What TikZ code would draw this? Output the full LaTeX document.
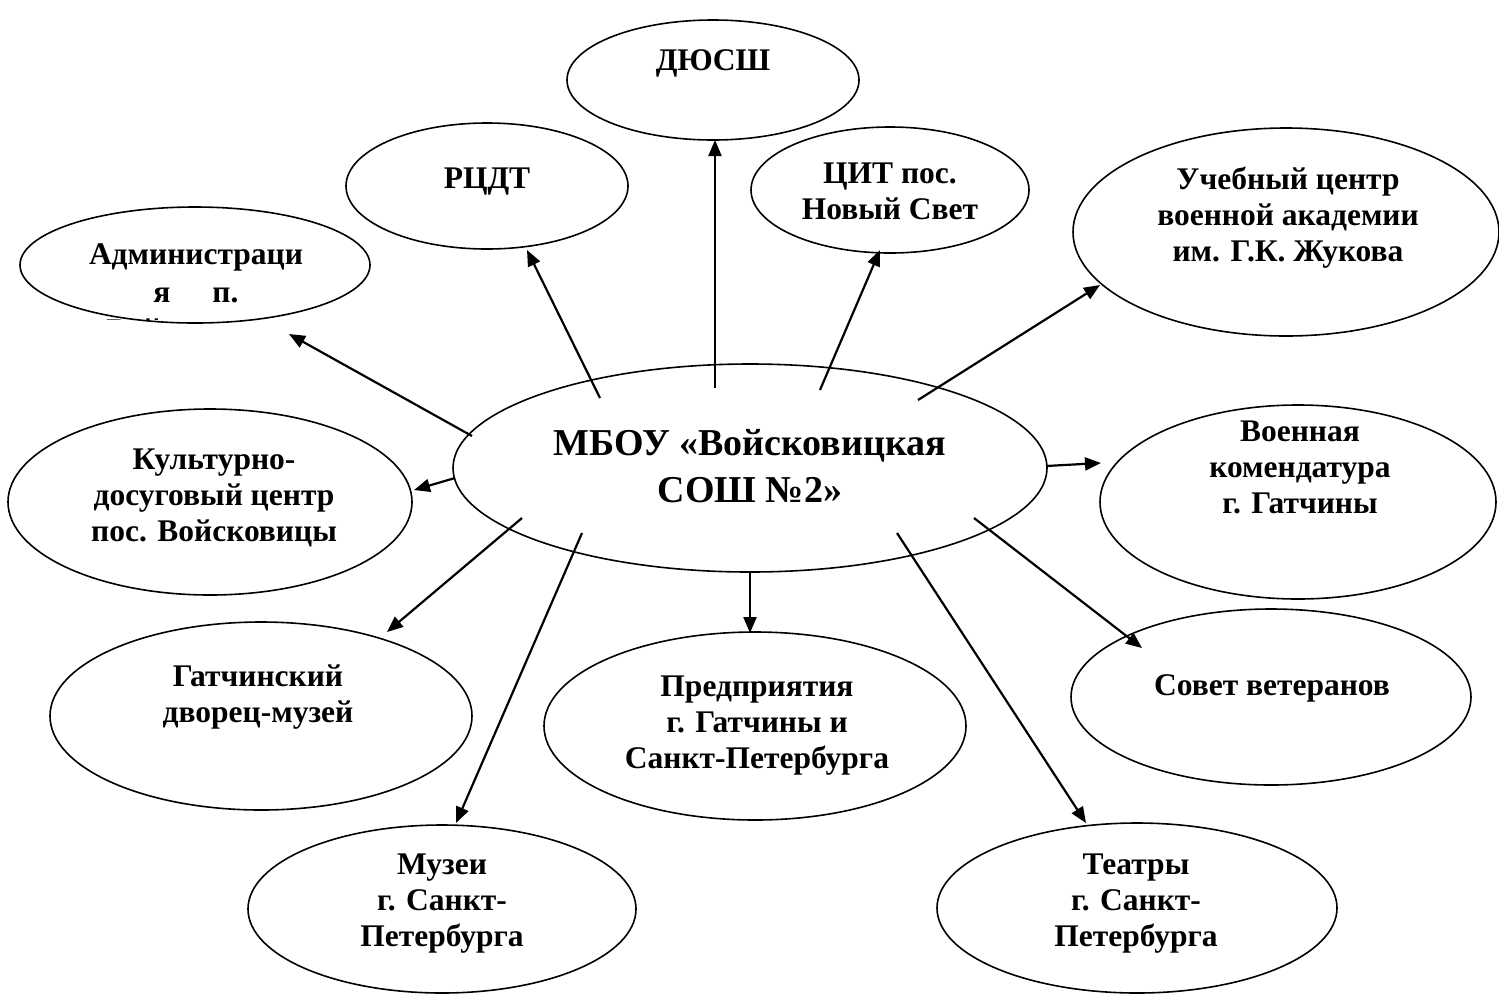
\documentclass[tikz,border=0pt]{standalone}
\usepackage{fontspec}
\setmainfont{Liberation Serif}
\usetikzlibrary{shapes.geometric,arrows.meta}
\begin{document}
\begin{tikzpicture}[x=1pt,y=-1pt,
 ell/.style={draw, ellipse, line width=1.6pt, inner sep=0pt, outer sep=0pt},
 lbl/.style={font=\fontsize{31.5}{36}\selectfont\bfseries, align=center, inner sep=0pt},
 big/.style={font=\fontsize{38}{47}\selectfont\bfseries, align=center, inner sep=0pt},
 conn/.style={line width=2.2pt, -{Triangle[length=16pt,width=13pt]}}]
\useasboundingbox (0,0) rectangle (1499,997);
% ellipses
\node[ell, minimum width=292pt, minimum height=120pt] (dyussh) at (713,80) {};
\node[ell, minimum width=282pt, minimum height=126pt] (rcdt) at (487,186) {};
\node[ell, minimum width=278pt, minimum height=126pt] (cit) at (890,190) {};
\node[ell, minimum width=426pt, minimum height=208pt] (uch) at (1286,232) {};
\node[ell, minimum width=350pt, minimum height=116pt] (adm) at (195,265) {};
\node[ell, minimum width=594pt, minimum height=208pt] (mbou) at (750,468) {};
\node[ell, minimum width=404pt, minimum height=186pt] (kult) at (210,502) {};
\node[ell, minimum width=396pt, minimum height=194pt] (voen) at (1298,502) {};
\node[ell, minimum width=422pt, minimum height=188pt] (gatch) at (261,716) {};
\node[ell, minimum width=422pt, minimum height=188pt] (pred) at (755,726) {};
\node[ell, minimum width=400pt, minimum height=176pt] (sovet) at (1271,697) {};
\node[ell, minimum width=388pt, minimum height=168pt] (muz) at (442,909) {};
\node[ell, minimum width=400pt, minimum height=170pt] (teat) at (1137,908) {};
% texts
\node[lbl] (t-dyussh) at (713,63) {ДЮСШ};
\node[lbl] (t-rcdt) at (487,182) {РЦДТ};
\node[lbl] (t-cit) at (890,191) {ЦИТ пос.\\Новый Свет};
\node[lbl] (t-uch) at (1288,218) {Учебный центр\\военной академии\\им. Г.К. Жукова};
\begin{scope}
\clip (30,225) rectangle (360,319);
\node[lbl, anchor=north, font=\fontsize{31.5}{38}\selectfont\bfseries] (t-adm) at (196,243) {Администраци\\я\hspace{42pt}п.\\Войсковицы};
\end{scope}
\node[big] (t-mbou) at (750,466) {МБОУ «Войсковицкая\\СОШ №2»};
\node[lbl] (t-kult) at (214,498) {Культурно-\\досуговый центр\\пос. Войсковицы};
\node[lbl] (t-voen) at (1300,467) {Военная\\комендатура\\г. Гатчины};
\node[lbl] (t-gatch) at (258,697) {Гатчинский\\дворец-музей};
\node[lbl] (t-pred) at (757,726) {Предприятия\\г. Гатчины и\\Санкт-Петербурга};
\node[lbl] (t-sovet) at (1272,688) {Совет ветеранов};
\node[lbl] (t-muz) at (442,904) {Музеи\\г. Санкт-\\Петербурга};
\node[lbl] (t-teat) at (1136,904) {Театры\\г. Санкт-\\Петербурга};
% connector end points
\coordinate (s1) at (715,388); \coordinate (e1) at (715,140);
\coordinate (s2) at (600,398); \coordinate (e2) at (527,250);
\coordinate (s3) at (820,390); \coordinate (e3) at (880,250);
\coordinate (s4) at (918,400); \coordinate (e4) at (1100,285);
\coordinate (s5) at (472,436); \coordinate (e5) at (289,334);
\coordinate (s6) at (455,478); \coordinate (e6) at (414,490);
\coordinate (s7) at (1046,466); \coordinate (e7) at (1101,463);
\coordinate (s8) at (522,518); \coordinate (e8) at (387,632);
\coordinate (s9) at (582,533); \coordinate (e9) at (456,823);
\coordinate (s10) at (750,572); \coordinate (e10) at (750,633);
\coordinate (s11) at (897,533); \coordinate (e11) at (1086,823);
\coordinate (s12) at (974,518); \coordinate (e12) at (1142,648);
\foreach \i in {1,...,12} {\draw[conn] (s\i) -- (e\i);}
\end{tikzpicture}
\end{document}
